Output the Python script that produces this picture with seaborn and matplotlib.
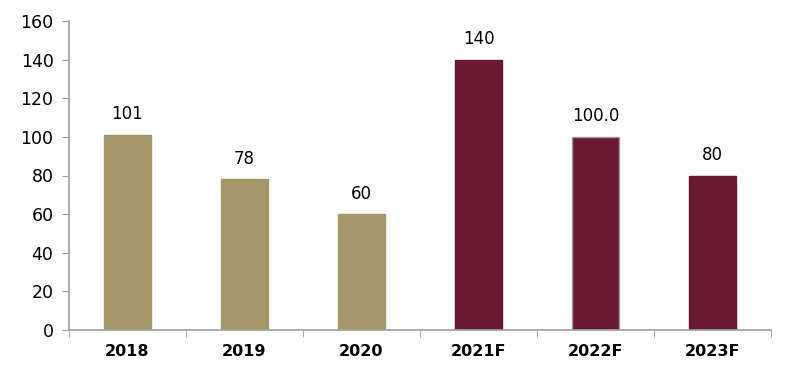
import pandas as pd
import seaborn as sns
import matplotlib.pyplot as plt

sns.set_style("white")
plt.rcParams['font.family'] = ['DejaVu Sans']
plt.rcParams['text.color'] = 'black'
plt.rcParams['xtick.labelcolor'] = 'black'
plt.rcParams['ytick.labelcolor'] = 'black'

years = ["2018", "2019", "2020", "2021F", "2022F", "2023F"]
values = [101, 78, 60, 140, 100.0, 80]
labels = ["101", "78", "60", "140", "100.0", "80"]
colors = ["#A39669", "#A39669", "#A39669", "#6A1931", "#6A1931", "#6A1931"]

df = pd.DataFrame({"Year": years, "Value": values})

fig = plt.figure(figsize=(8, 3.9), dpi=100)
ax = fig.add_axes([0.086, 0.154, 0.878, 0.792])

sns.barplot(data=df, x="Year", y="Value", hue="Year", order=years,
            palette=dict(zip(years, colors)), legend=False,
            width=0.4, ax=ax, saturation=1)

for i, p in enumerate(ax.patches):
    edge = "#9A9A9A" if years[i] == "2022F" else colors[i]
    p.set_edgecolor(edge)
    p.set_linewidth(1)
    ax.text(p.get_x() + p.get_width() / 2, p.get_height() + 6, labels[i],
            ha="center", va="bottom", fontsize=12, color="black")

ax.set_ylim(0, 160)
ax.set_yticks(range(0, 161, 20))
ax.set_xlim(-0.5, 5.5)
ax.set_xlabel("")
ax.set_ylabel("")

for s in ["top", "right"]:
    ax.spines[s].set_visible(False)
for s in ["left", "bottom"]:
    ax.spines[s].set_color("#A0A0A0")
    ax.spines[s].set_linewidth(1.2)

ax.set_xticks(range(6))
ax.set_xticklabels(years, fontsize=11.5, fontweight="bold")
ax.tick_params(axis="x", length=0, pad=10)
ax.set_xticks([i - 0.5 for i in range(7)], minor=True)
ax.tick_params(axis="x", which="minor", length=5, color="#A0A0A0", direction="out")
ax.tick_params(axis="y", length=5, color="#A0A0A0", direction="out", labelsize=12.5, pad=6)
ax.tick_params(left=True, which="major", axis="y")
ax.tick_params(bottom=True, which="minor", axis="x")
for t in ax.get_yticklabels():
    t.set_fontweight("medium")

fig.savefig("out.png", dpi=100)
